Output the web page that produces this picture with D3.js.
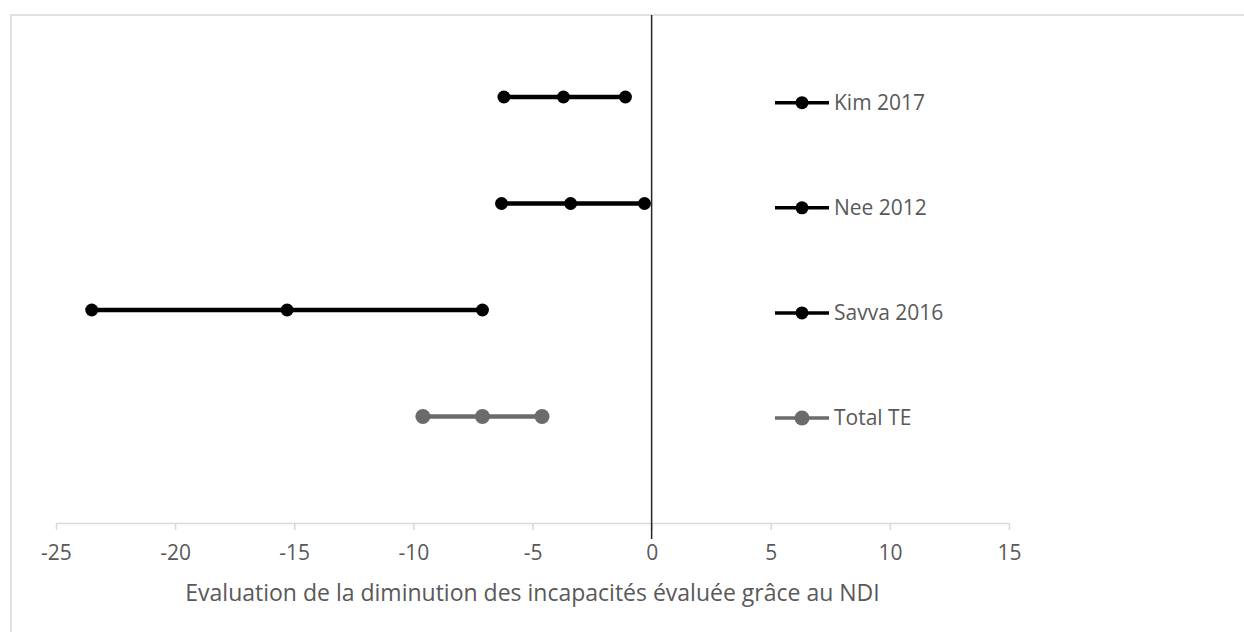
<!DOCTYPE html>
<html>
<head>
<meta charset="utf-8">
<script src="https://cdn.jsdelivr.net/npm/d3@7"></script>
<style>
  body { margin: 0; background: #fff; }
  svg text { font-family: "Open Sans", "Liberation Sans", sans-serif; fill: #595959; }
</style>
</head>
<body>
<div id="chart"></div>
<script>

// studies, top to bottom
const studies = ['Kim 2017', 'Nee 2012', 'Savva 2016', 'Total TE'];
// row position on the hidden vertical axis
const rows = [4, 3, 2, 1];
// lower bound, estimate, upper bound
const lower = [-6.2, -6.3, -23.5, -9.6];
const mid = [-3.7, -3.4, -15.3, -7.1];
const upper = [-1.1, -0.3, -7.1, -4.6];
const colors = ['#000000', '#000000', '#000000', '#6b6b6b'];

const xTicks = [-25, -20, -15, -10, -5, 0, 5, 10, 15];
const xTitle = 'Evaluation de la diminution des incapacités évaluée grâce au NDI';

const W = 1244, H = 632;
const margin = {t: 15, l: 56, r: 235, axis: 523};

const svg = d3.select('#chart').append('svg')
	.attr('width', W)
	.attr('height', H);

// chart border
svg.append('rect')
	.attr('x', 11)
	.attr('y', margin.t)
	.attr('width', W + 20)
	.attr('height', H)
	.attr('fill', 'none')
	.attr('stroke', '#d9d9d9')
	.attr('stroke-width', 1.5);

const scaleX = d3.scaleLinear().domain([-25, 15]).range([margin.l, W - margin.r]);
const rowStep = 106.5;
const scaleY = d3.scaleLinear().domain([0, 4]).range([margin.axis, margin.axis - 4 * rowStep]);

////////////////////////////////////////////////////////////////////

const axisX = d3.axisBottom(scaleX)
	.tickValues(xTicks)
	.tickFormat(d3.format('d'))
	.tickSizeInner(7)
	.tickSizeOuter(0);

const axisXNode = svg.append('g')
	.attr('class', 'axis axis-x')
	.attr('transform', `translate(0,${margin.axis})`)
	.call(axisX);

axisXNode.select('.domain')
	.attr('stroke', '#d9d9d9')
	.attr('stroke-width', 1.5);
axisXNode.selectAll('.tick line')
	.attr('stroke', '#d9d9d9')
	.attr('stroke-width', 1.5);
axisXNode.selectAll('.tick text')
	.attr('y', 30)
	.attr('dy', '0.35em')
	.style('font-size', '21px')
	.text(d => d < 0 ? '-' + Math.abs(d) : d);

svg.append('text')
	.attr('x', (scaleX(-25) + scaleX(15)) / 2)
	.attr('y', 601)
	.attr('text-anchor', 'middle')
	.style('font-size', '23px')
	.text(xTitle);

////////////////////////////////////////////////////////////////////

// zero line
svg.append('line')
	.attr('x1', scaleX(0))
	.attr('x2', scaleX(0))
	.attr('y1', margin.t)
	.attr('y2', scaleY(-0.15))
	.attr('stroke', '#262626')
	.attr('stroke-width', 1.5);

////////////////////////////////////////////////////////////////////

const data = studies.map((s, i) => ({
	name: s,
	row: rows[i],
	vals: [lower[i], mid[i], upper[i]],
	color: colors[i]
}));

const series = svg.selectAll('.series')
	.data(data)
	.enter()
	.append('g')
	.attr('class', 'series');

series.append('line')
	.attr('x1', d => scaleX(d3.min(d.vals)))
	.attr('x2', d => scaleX(d3.max(d.vals)))
	.attr('y1', d => scaleY(d.row))
	.attr('y2', d => scaleY(d.row))
	.attr('stroke', d => d.color)
	.attr('stroke-width', 4.5);

series.selectAll('circle')
	.data(d => d.vals.map(v => ({v: v, row: d.row, color: d.color, name: d.name})))
	.enter()
	.append('circle')
	.attr('cx', d => scaleX(d.v))
	.attr('cy', d => scaleY(d.row))
	.attr('r', d => d.name === 'Total TE' ? 7.5 : 6.5)
	.attr('fill', d => d.color);

////////////////////////////////////////////////////////////////////

// legend
const legend = svg.selectAll('.legend')
	.data(data)
	.enter()
	.append('g')
	.attr('class', 'legend')
	.attr('transform', (d, i) => `translate(775,${102.7 + i * 105.1})`);

legend.append('line')
	.attr('x1', 0)
	.attr('x2', 54)
	.attr('stroke', d => d.color)
	.attr('stroke-width', 3.5);

legend.append('circle')
	.attr('cx', 27)
	.attr('r', d => d.name === 'Total TE' ? 7.5 : 6.5)
	.attr('fill', d => d.color);

legend.append('text')
	.attr('x', 59)
	.attr('dy', '0.35em')
	.style('font-size', '21px')
	.text(d => d.name);

</script>
</body>
</html>
